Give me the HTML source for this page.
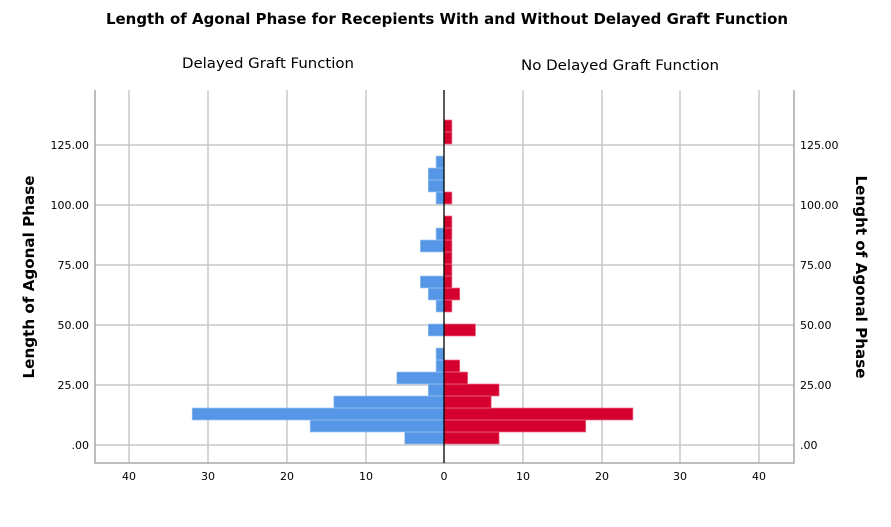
<!DOCTYPE html>
<html><head><meta charset="utf-8"><style>
html,body{margin:0;padding:0;background:#fff;}
svg{display:block;font-family:"DejaVu Sans","Liberation Sans",sans-serif;}
</style></head><body>
<svg width="891" height="527" viewBox="0 0 891 527" xmlns="http://www.w3.org/2000/svg">
<text x="447" y="24" text-anchor="middle" font-size="15" font-weight="bold" textLength="682" lengthAdjust="spacingAndGlyphs">Length of Agonal Phase for Recepients With and Without Delayed Graft Function</text>
<text x="268" y="68" text-anchor="middle" font-size="14" textLength="172" lengthAdjust="spacingAndGlyphs">Delayed Graft Function</text>
<text x="620" y="70" text-anchor="middle" font-size="14" textLength="198" lengthAdjust="spacingAndGlyphs">No Delayed Graft Function</text>
<text transform="translate(34,277) rotate(-90)" text-anchor="middle" font-size="15" font-weight="bold" textLength="203" lengthAdjust="spacingAndGlyphs">Length of Agonal Phase</text>
<text transform="translate(856,277) rotate(90)" text-anchor="middle" font-size="15" font-weight="bold" textLength="203" lengthAdjust="spacingAndGlyphs">Lenght of Agonal Phase</text>
<g stroke="#c8c8c8" stroke-width="1.5">
<line x1="129" y1="90" x2="129" y2="463"/><line x1="208" y1="90" x2="208" y2="463"/><line x1="287" y1="90" x2="287" y2="463"/><line x1="366" y1="90" x2="366" y2="463"/>
<line x1="523" y1="90" x2="523" y2="463"/><line x1="602" y1="90" x2="602" y2="463"/><line x1="680" y1="90" x2="680" y2="463"/><line x1="759" y1="90" x2="759" y2="463"/>
<line x1="95" y1="145" x2="794" y2="145"/><line x1="95" y1="205" x2="794" y2="205"/><line x1="95" y1="265" x2="794" y2="265"/><line x1="95" y1="325" x2="794" y2="325"/><line x1="95" y1="385" x2="794" y2="385"/><line x1="95" y1="445" x2="794" y2="445"/>
</g>
<g stroke="#a8a8a8" stroke-width="1.5" fill="none"><polyline points="95,90 95,463 794,463 794,90"/></g>
<g fill="#5596e6" stroke="#9cc2f0" stroke-width="0.7">
<rect x="404.7" y="432" width="39.3" height="12"/>
<rect x="310.2" y="420" width="133.8" height="12"/>
<rect x="192.2" y="408" width="251.8" height="12"/>
<rect x="333.8" y="396" width="110.2" height="12"/>
<rect x="428.3" y="384" width="15.7" height="12"/>
<rect x="396.8" y="372" width="47.2" height="12"/>
<rect x="436.1" y="360" width="7.9" height="12"/>
<rect x="436.1" y="348" width="7.9" height="12"/>
<rect x="428.3" y="324" width="15.7" height="12"/>
<rect x="436.1" y="300" width="7.9" height="12"/>
<rect x="428.3" y="288" width="15.7" height="12"/>
<rect x="420.4" y="276" width="23.6" height="12"/>
<rect x="420.4" y="240" width="23.6" height="12"/>
<rect x="436.1" y="228" width="7.9" height="12"/>
<rect x="436.1" y="192" width="7.9" height="12"/>
<rect x="428.3" y="180" width="15.7" height="12"/>
<rect x="428.3" y="168" width="15.7" height="12"/>
<rect x="436.1" y="156" width="7.9" height="12"/>
</g>
<g fill="#d6002f" stroke="#e8708a" stroke-width="0.7">
<rect x="444" y="432" width="55.1" height="12"/>
<rect x="444" y="420" width="141.7" height="12"/>
<rect x="444" y="408" width="188.9" height="12"/>
<rect x="444" y="396" width="47.2" height="12"/>
<rect x="444" y="384" width="55.1" height="12"/>
<rect x="444" y="372" width="23.6" height="12"/>
<rect x="444" y="360" width="15.7" height="12"/>
<rect x="444" y="324" width="31.5" height="12"/>
<rect x="444" y="300" width="7.9" height="12"/>
<rect x="444" y="288" width="15.7" height="12"/>
<rect x="444" y="276" width="7.9" height="12"/>
<rect x="444" y="264" width="7.9" height="12"/>
<rect x="444" y="252" width="7.9" height="12"/>
<rect x="444" y="240" width="7.9" height="12"/>
<rect x="444" y="228" width="7.9" height="12"/>
<rect x="444" y="216" width="7.9" height="12"/>
<rect x="444" y="192" width="7.9" height="12"/>
<rect x="444" y="132" width="7.9" height="12"/>
<rect x="444" y="120" width="7.9" height="12"/>
</g>
<line x1="444" y1="90" x2="444" y2="463" stroke="#000" stroke-width="1.3"/>
<g font-size="11" text-anchor="end" fill="#000">
<text x="89" y="149">125.00</text><text x="89" y="209">100.00</text><text x="89" y="269">75.00</text><text x="89" y="329">50.00</text><text x="89" y="389">25.00</text><text x="89" y="449">.00</text>
</g>
<g font-size="11" text-anchor="start" fill="#000">
<text x="800" y="149">125.00</text><text x="800" y="209">100.00</text><text x="800" y="269">75.00</text><text x="800" y="329">50.00</text><text x="800" y="389">25.00</text><text x="800" y="449">.00</text>
</g>
<g font-size="11" text-anchor="middle" fill="#000">
<text x="129" y="480">40</text><text x="208" y="480">30</text><text x="287" y="480">20</text><text x="366" y="480">10</text><text x="444" y="480">0</text>
<text x="523" y="480">10</text><text x="602" y="480">20</text><text x="680" y="480">30</text><text x="759" y="480">40</text>
</g>
</svg>
</body></html>
